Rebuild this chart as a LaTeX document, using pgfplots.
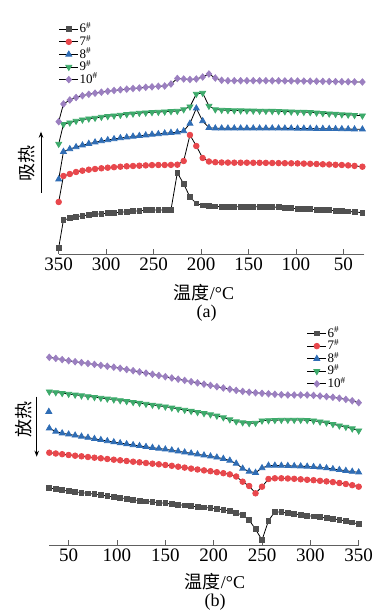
\documentclass[border=0pt]{standalone}
\usepackage{pgfplots}
\pgfplotsset{compat=1.18}
\usepackage{pgfplotstable}
\usetikzlibrary{arrows.meta}
\usepackage{fontspec}
\setmainfont{Liberation Serif}
\newfontfamily\cjk{Noto Sans CJK SC}
\definecolor{c6}{HTML}{505050}
\definecolor{c7}{HTML}{E8474C}
\definecolor{c8}{HTML}{2F6DB5}
\definecolor{c9}{HTML}{3DAA6B}
\definecolor{c10}{HTML}{9B7FC0}
\definecolor{axc}{HTML}{606060}

\pgfplotstableread{
T s6 s7 s8 s9 s10
350 6.3 52 74.7 110 132.3
345 34 78 102.3 129.7 150
338.3 35.7 80 105 131.3 154
331.7 37.3 82 107 133 156.5
325 38.3 83.3 108.7 134.3 158.3
318.3 39 84.3 110.3 135.3 159.7
311.7 39.7 85 111.7 136 160.8
305 40.3 85.7 113 137 161.8
298.3 40.7 86.3 114 137.7 162.7
291.7 41.3 86.8 115 138.3 163.5
285 41.7 87.3 116 139 164.2
278.3 42.3 87.7 116.7 139.7 164.8
271.7 42.7 88 117.5 140.3 165.5
265 43.3 88.3 118.2 141 166
258.3 43.7 88.6 118.8 141.3 166.7
251.7 44 88.9 119.5 141.7 167.2
245 44 89 120 142 167.7
238.3 44 89 120.7 142.3 168
231.7 44.2 89.1 121.3 142.7 170
225 81.3 89.3 121.7 143 175.5
218.3 70 93 123 144.5 175
211.7 57 119 130.5 147.3 174.5
205 50.5 108 145.7 160 175
198.3 48.5 96 133 161 177
191.7 47.8 92.5 126.3 148 180
185 47.5 91.8 125.7 144.5 176
178.3 47.3 91.5 125.7 144 173.7
171.7 47.3 91.4 125.7 143.7 173.3
165 47.3 91.3 125.7 143.5 173.3
158.3 47.3 91.3 125.7 143.4 173.3
151.7 47.3 91.3 125.7 143.3 173.3
145 47.3 91.2 125.7 143.2 173.3
138.3 47.2 91.2 125.7 143.1 173.3
131.7 47.1 91.1 125.7 143 173.3
125 47 91 125.7 142.9 173.2
118.3 46.7 90.9 125.7 142.7 173.2
111.7 46.3 90.8 125.6 142.5 173.1
105 45.8 90.7 125.6 142.3 173.1
98.3 45.3 90.6 125.5 142.1 173
91.7 45 90.4 125.5 141.9 172.9
85 44.7 90.2 125.4 141.7 172.8
78.3 44.3 90 125.3 141.2 172.7
71.7 44 89.7 125.3 140.7 172.6
65 43.7 89.5 125.2 140.3 172.5
58.3 43.3 89.2 125.1 139.9 172.4
51.7 43 89 125 139.5 172.3
45 42.6 88.6 124.9 139.2 172.2
38.3 42.1 88.1 124.8 138.8 172.1
30 41.3 87.3 124.7 138.3 172
}\tabA

\pgfplotstableread{
T s6 s7 s8 s9 s10
30 57.3 92.3 116.7 153.3 187.7
36.7 55.7 91.5 113.5 152.6 186.6
43.3 54.7 90.8 111.8 151.8 185.4
50 54 90 110.7 151 184.3
56.7 53.2 89.3 109.6 150.2 183.3
63.3 52.4 88.7 108.5 149.4 182.4
70 51.6 88 107.4 148.6 181.5
76.7 50.8 87.3 106.2 147.8 180.6
83.3 49.9 86.7 105.1 147 179.6
90 49 86 104 146.2 178.7
96.7 48.1 85.3 102.9 145.4 177.8
103.3 47.2 84.7 101.9 144.6 176.7
110 46.3 84 100.9 143.7 175.5
116.7 45.3 83.3 100 142.8 174.3
123.3 44.3 82.7 99.1 141.9 173.1
130 43.6 82 98.2 141 171.9
136.7 43 81.3 97.3 140.1 170.7
143.3 42.3 80.7 96.5 139.2 169.5
150 41.7 80 95.7 138.3 168.3
156.7 41 79.2 94.7 137.2 167
163.3 40.3 78.3 93.7 136.1 165.8
170 39.6 77.4 92.7 135 164.6
176.7 38.9 76.4 91.7 133.9 163.3
183.3 38.2 75.5 90.7 132.8 162.1
190 37.6 74.6 89.7 131.7 160.8
196.7 37 73.8 88.7 130.5 159.6
203.3 36.2 72.8 87.6 129.2 158.3
210 35.2 71.8 86.3 127.5 157
216.7 34 70.6 84.5 125.5 155.8
223.3 32 68.5 81.5 123.5 154.6
230 30 63.3 76.5 122.5 153.6
236.7 25 59 73.5 121.7 152.8
243.3 15.7 51.7 72.3 122 152.2
250 5 58.3 77 124.3 151.7
256.7 24.3 66 79.5 124.6 151.2
263.3 33.3 66.7 79.5 124.8 150.7
270 32.7 66.7 79.4 125 150.3
276.7 32 66.5 79.2 125 150
283.3 31.1 66.2 79 125 150
290 30.2 65.7 78.8 125 150
296.7 29.4 65.2 78.5 124.8 150
303.3 28.6 64.8 78.1 124.3 149.6
310 27.8 64.2 77.6 123.3 149
316.7 27 63.6 76.9 122.3 148.4
323.3 26.2 62.9 76 120.8 147.7
330 25.2 62 75.2 119.3 146.8
336.7 24 61 74.3 118 145.6
343.3 22.5 59.8 73.4 116.4 144.2
350 21 58.3 72.7 114.3 142.3
}\tabB

\pgfplotsset{
  panel/.style={
    scale only axis, clip=false,
    axis x line*=bottom, hide y axis,
    x axis line style={-, draw=axc, line width=0.9pt},
    xtick align=inside, major tick length=4.5pt,
    tick style={draw=axc, line width=0.9pt},
    /pgf/number format/assume math mode=true,
    ticklabel style={font=\fontsize{19}{19}\selectfont, text=black},
    legend style={draw=none, fill=none, font=\fontsize{13}{13}\selectfont,
      row sep=0pt, inner sep=0pt,
      nodes={inner sep=1pt, text height=9pt, text depth=1.6pt}},
    legend cell align=left,
    legend image code/.code={\draw[mark repeat=2,mark phase=2,##1] plot coordinates {(0pt,0pt) (9.5pt,0pt) (19pt,0pt)};},
  },
  s6/.style={black, line width=0.8pt, mark=square*, mark size=2.4pt, mark options={fill=c6, draw=c6, solid}},
  s7/.style={black, line width=0.8pt, mark=*, mark size=2.8pt, mark options={fill=c7, draw=c7, solid}},
  s8/.style={black, line width=0.8pt, mark=triangle*, mark size=3.4pt, mark options={fill=c8, draw=c8, solid}},
  s9/.style={black, line width=0.8pt, mark=triangle*, mark size=3.4pt, mark options={fill=c9, draw=c9, solid, rotate=180}},
  s10/.style={black, line width=0.8pt, mark=diamond*, mark size=3.2pt, mark options={fill=c10, draw=c10, solid, xscale=1.15}},
}

\begin{document}
\begin{tikzpicture}
\useasboundingbox (0pt,0pt) rectangle (374pt,613pt);

% ---------- panel (a) ----------
\begin{axis}[panel,
  at={(58.7pt,359pt)}, anchor=south west,
  width=305.6pt, height=250pt,
  x dir=reverse, xmin=28, xmax=350, ymin=0, ymax=250,
  xtick={50,100,150,200,250,300,350},
  legend style={at={(0,0.925)}, anchor=north west},
]
\addplot[s6] table[x=T,y=s6]{\tabA};
\addlegendentry{6\textsuperscript{\#}}
\addplot[s7] table[x=T,y=s7]{\tabA};
\addlegendentry{7\textsuperscript{\#}}
\addplot[s8] table[x=T,y=s8]{\tabA};
\addlegendentry{8\textsuperscript{\#}}
\addplot[s9] table[x=T,y=s9]{\tabA};
\addlegendentry{9\textsuperscript{\#}}
\addplot[s10] table[x=T,y=s10]{\tabA};
\addlegendentry{10\textsuperscript{\#}}
\end{axis}

% ---------- panel (b) ----------
\begin{axis}[panel,
  at={(49.3pt,68pt)}, anchor=south west,
  width=309.4pt, height=200pt,
  xmin=30, xmax=350, ymin=0, ymax=200,
  xtick={50,100,150,200,250,300,350},
  legend style={at={(0.832,1.09)}, anchor=north west},
]
\addplot[s6] table[x=T,y=s6]{\tabB};
\addlegendentry{6\textsuperscript{\#}}
\addplot[s7] table[x=T,y=s7]{\tabB};
\addlegendentry{7\textsuperscript{\#}}
\addplot[s8] table[x=T,y=s8]{\tabB};
\addlegendentry{8\textsuperscript{\#}}
\addplot[s9] table[x=T,y=s9]{\tabB};
\addlegendentry{9\textsuperscript{\#}}
\addplot[s10] table[x=T,y=s10]{\tabB};
\addlegendentry{10\textsuperscript{\#}}
\addplot[s8, only marks, forget plot] coordinates {(29.5,133.3)};
\end{axis}

% labels
\node[font=\fontsize{18}{18}\selectfont] at (204pt,320pt) {{\cjk 温度}/°C};
\node[font=\fontsize{18}{18}\selectfont] at (206.7pt,300.3pt) {(a)};
\node[font=\fontsize{18}{18}\selectfont] at (215pt,31.3pt) {{\cjk 温度}/°C};
\node[font=\fontsize{18}{18}\selectfont] at (215pt,11.3pt) {(b)};
\node[font=\fontsize{18}{18}\selectfont\cjk, rotate=90] at (27pt,449.7pt) {吸热};
\draw[-{Stealth[length=6pt,width=4.5pt]}, line width=0.8pt] (41pt,420pt) -- (41pt,481.3pt);
\node[font=\fontsize{18}{18}\selectfont\cjk, rotate=90] at (24pt,193pt) {放热};
\draw[-{Stealth[length=6pt,width=4.5pt]}, line width=0.8pt] (36.7pt,216.3pt) -- (36.7pt,156.3pt);
\end{tikzpicture}
\end{document}
